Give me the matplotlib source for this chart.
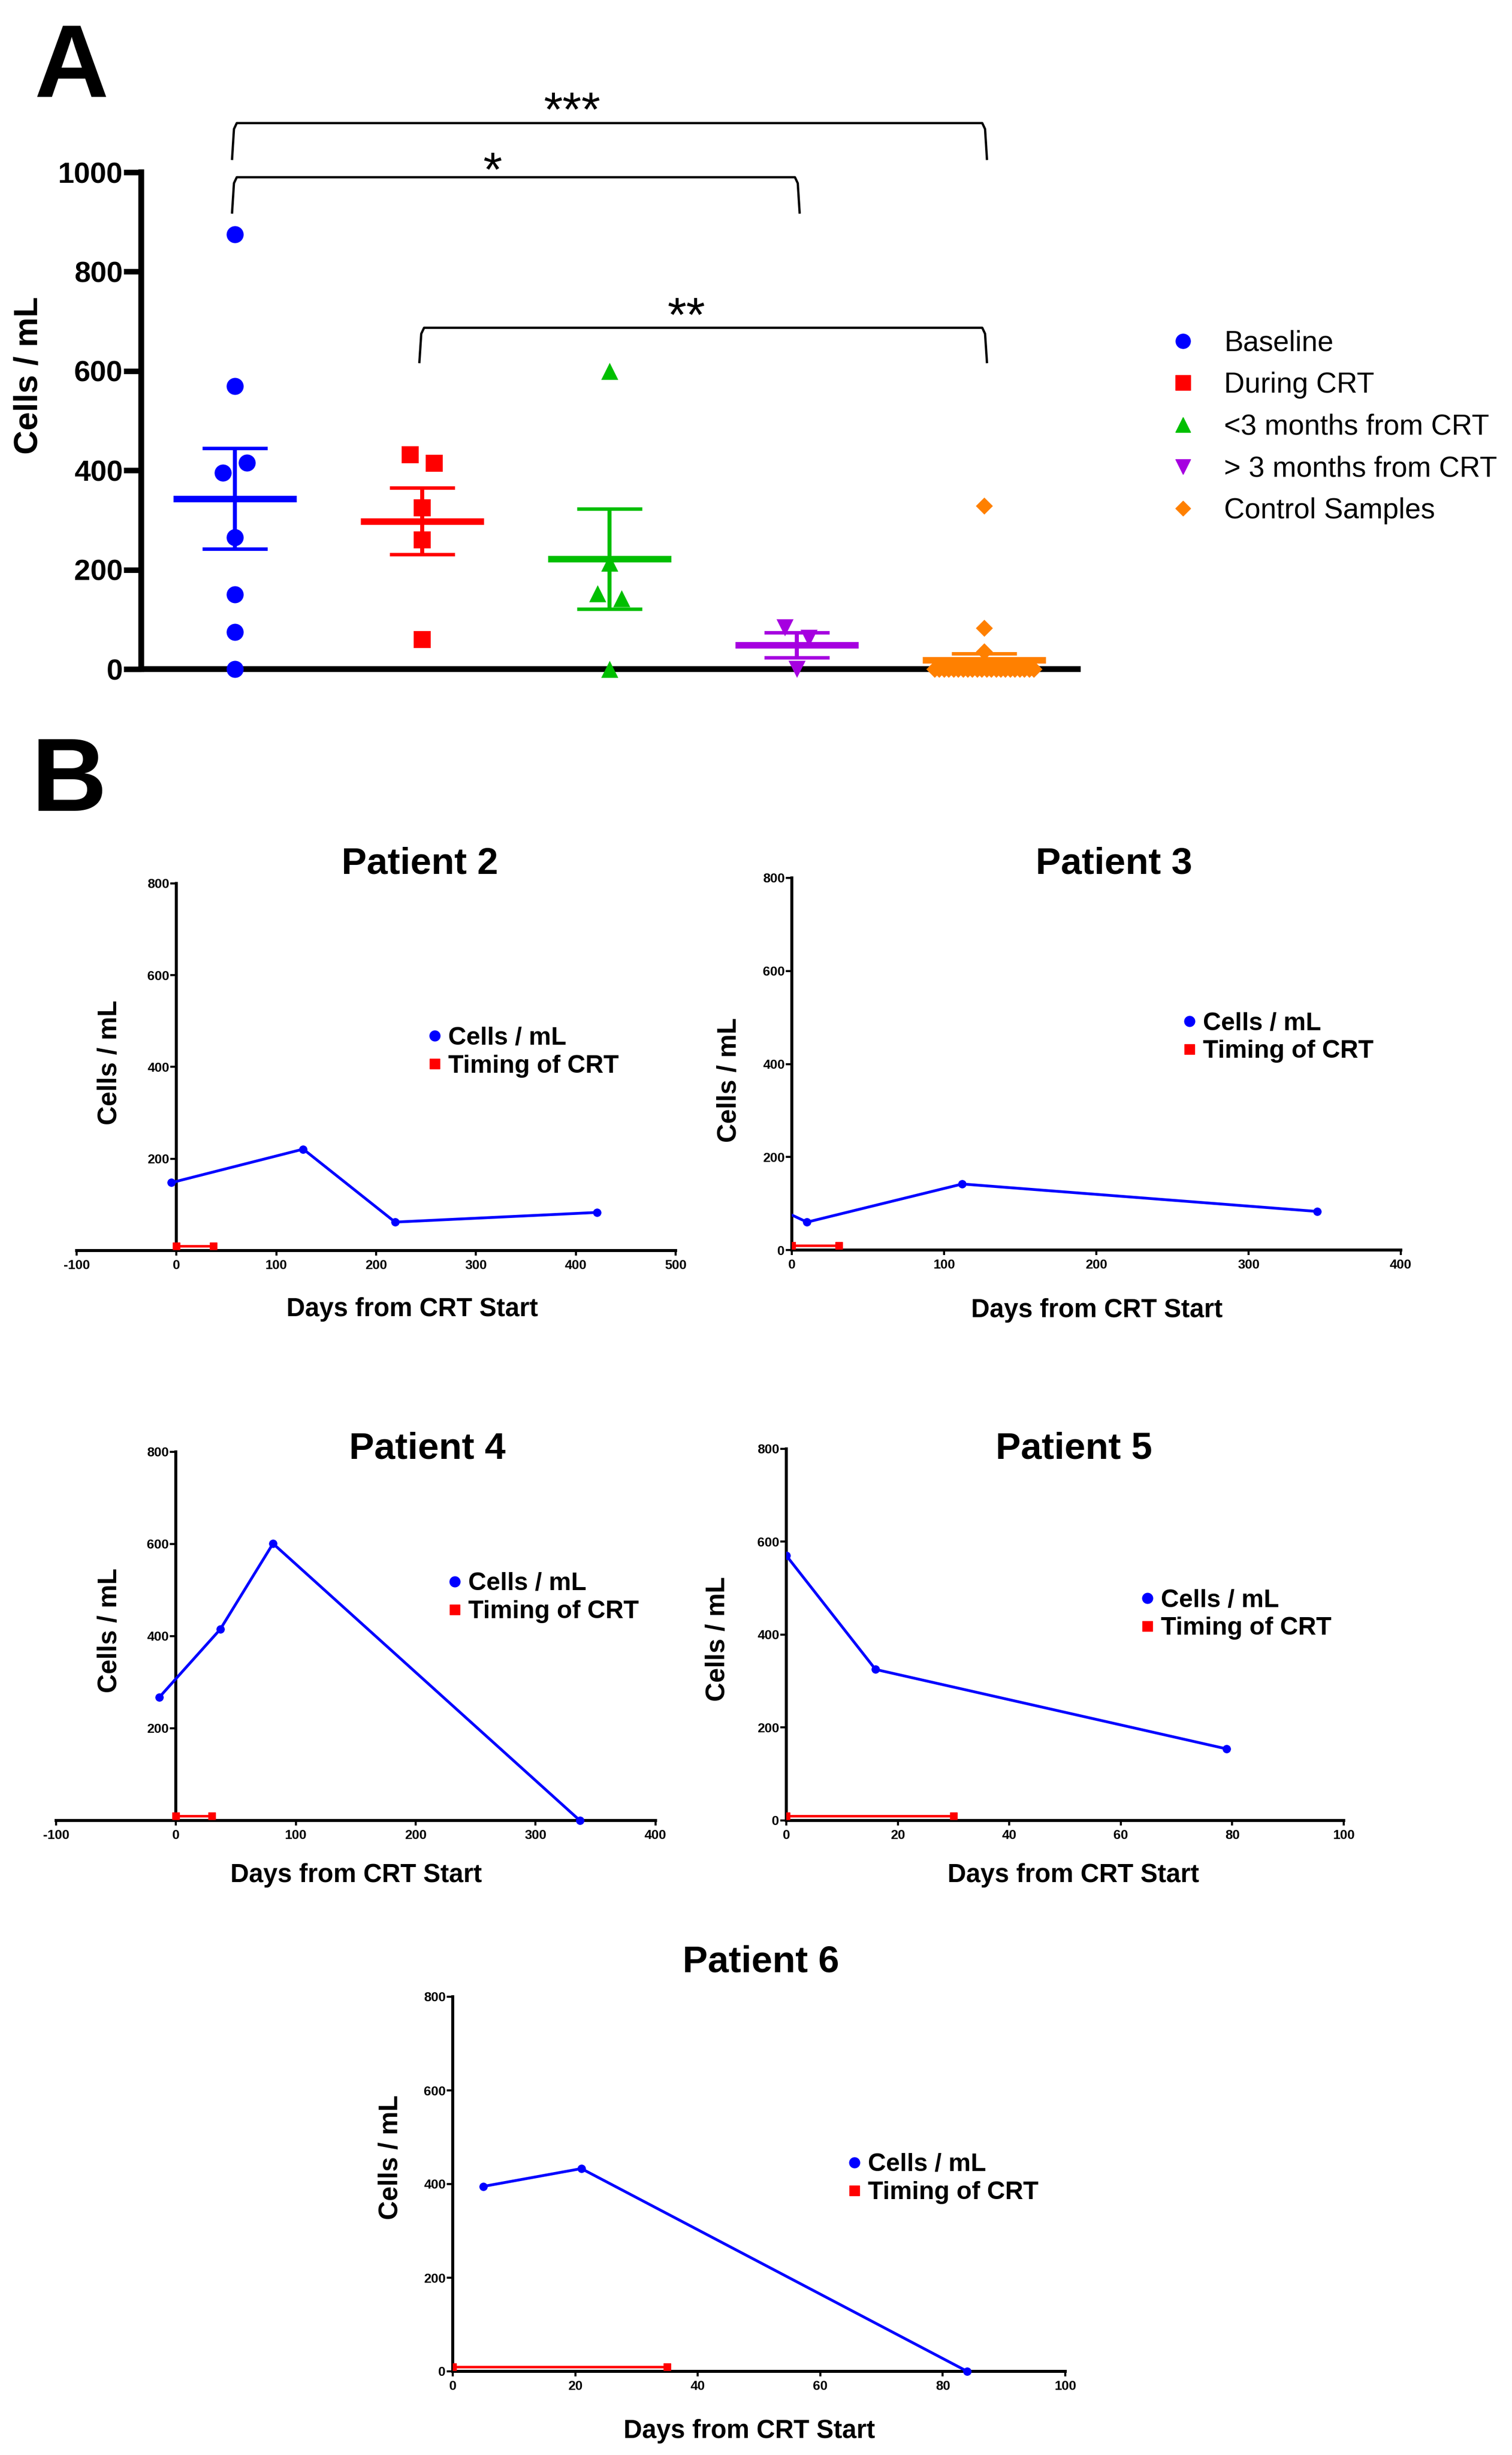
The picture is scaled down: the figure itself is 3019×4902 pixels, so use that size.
import numpy as np
import matplotlib
matplotlib.use('Agg')
import matplotlib.pyplot as plt
from matplotlib.lines import Line2D
from matplotlib.patches import Rectangle

plt.rcParams['font.family'] = ['Liberation Sans', 'DejaVu Sans']
plt.rcParams['axes.unicode_minus'] = False

W, H = 3019, 4902
DPI = 100

# ---------------- Panel A data ----------------
groups = ['Baseline', 'During CRT', '<3 months from CRT', '> 3 months from CRT', 'Control Samples']
baseline = [875, 570, 395, 415, 265, 150, 75, 0]
during_crt = [431, 414, 325, 260, 59]
lt3_months = [600, 214, 152, 142, 0]
gt3_months = [84, 62, 0]
controls = [329, 83, 35, 0, 0, 0, 0, 0, 0, 0, 0, 0, 0, 0, 0, 0, 0, 0, 0, 0, 0, 0, 0, 0, 0]
group_values = [baseline, during_crt, lt3_months, gt3_months, controls]
group_colors = ['#0000FF', '#FF0000', '#00BF00', '#A600E0', '#FF8000']
group_markers = ['o', 's', '^', 'v', 'D']
group_msize = [24.5, 24.5, 24.5, 24.5, 17.3]

bracket_pairs = [(1, 5), (1, 4), (2, 5)]
bracket_tops = [1099, 990, 687]
bracket_drops = [72, 71, 69]
bracket_labels = ['***', '*', '**']
bracket_label_x = [2.80, 2.375, 3.41]
bracket_label_base = [1094, 973, 680]

# ---------------- Panel B data ----------------
patients = ['Patient 2', 'Patient 3', 'Patient 4', 'Patient 5', 'Patient 6']
p_days = [[-5, 127, 219, 421], [-5, 10, 112, 345], [-14, 37, 81, 337], [0, 16, 79], [5, 21, 84]]
p_cells = [[148, 221, 62, 83], [83, 60, 142, 83], [267, 415, 601, 0], [570, 325, 154], [395, 433, 0]]
crt_days = [[0, 37], [0, 31], [0, 30], [0, 30], [0, 35]]
crt_level = [10, 10]
p_xlim = [(-100, 500), (0, 400), (-100, 400), (0, 100), (0, 100)]
p_xstep = [100, 100, 100, 20, 20]
y_ticks_b = [0, 200, 400, 600, 800]

# ---------------- layout (pixels) ----------------
p_rect = [(153, 1349, 1764, 2497), (1581, 2797, 1753, 2496), (112, 1308.5, 2899, 3635),
          (1570, 2683, 2892.6, 3635), (904, 2127, 3987, 4735)]
p_title = [(838, 1753), (2224, 1753), (853, 2921), (2144, 2921), (1519, 3946)]
p_xlab = [(823, 2628), (2190, 2630), (711, 3758), (2143, 3758), (1496, 4868)]
p_ylab = [(219, 2122), (1456, 2157), (219, 3256), (1433, 3273), (780, 4308)]
p_leg = [(868, 2101), (2375, 2071), (908, 3190), (2291, 3223), (1706, 4350)]


def px_rect(l, r, t, b):
    return [l / W, 1 - b / H, (r - l) / W, (b - t) / H]


def swarm_offsets(vals, thresh=30, step=0.128, max_spread=0.53):
    vals = np.asarray(vals, float)
    order = np.argsort(vals, kind='stable')
    offs = np.zeros(len(vals))
    clusters, cur = [], [order[0]]
    for idx in order[1:]:
        if vals[idx] - vals[cur[-1]] < thresh:
            cur.append(idx)
        else:
            clusters.append(cur)
            cur = [idx]
    clusters.append(cur)
    for c in clusters:
        c = sorted(c)
        k = len(c)
        if k > 1:
            s = min(step, max_spread / (k - 1))
            for j, idx in enumerate(c):
                offs[idx] = (j - (k - 1) / 2) * s
    return offs


fig = plt.figure(figsize=(W / DPI, H / DPI), dpi=DPI)

# ================= Panel A =================
aL, aR, aT, aB = 282, 2152, 344, 1336
axA = fig.add_axes(px_rect(aL, aR, aT, aB))
axA.set_xlim(0.5, 5.5)
axA.set_ylim(0, 1000)
for s in ['top', 'right']:
    axA.spines[s].set_visible(False)
for s in ['left', 'bottom']:
    axA.spines[s].set_linewidth(8.3)
axA.set_xticks([])
axA.set_yticks([0, 200, 400, 600, 800, 1000], labels=['0', '200', '400', '600', '800', '1000'],
               fontsize=42, fontweight='bold')
axA.tick_params(axis='y', direction='out', length=25, width=8, pad=1.5)

for i, (vals, c, m, ms) in enumerate(zip(group_values, group_colors, group_markers, group_msize)):
    xc = i + 1
    offs = swarm_offsets(vals)
    axA.scatter(xc + offs, vals, marker=m, s=ms ** 2, color=c, linewidths=0, zorder=3, clip_on=False)
    mean = np.mean(vals)
    sem = np.std(vals, ddof=1) / np.sqrt(len(vals))
    axA.errorbar([xc], [mean], yerr=[sem], fmt='none', ecolor=c, elinewidth=5.8, capsize=47,
                 capthick=5, zorder=4, clip_on=False)
    axA.hlines(mean, xc - 0.33, xc + 0.33, color=c, lw=9.4, zorder=5, clip_on=False)

for (g1, g2), top, drop, lab, lx, lb in zip(bracket_pairs, bracket_tops, bracket_drops,
                                             bracket_labels, bracket_label_x, bracket_label_base):
    axA.plot([g1 - 0.015, g1 - 0.005, g1 + 0.01, g2 - 0.01, g2 + 0.005, g2 + 0.015],
             [top - drop, top - 12, top, top, top - 12, top - drop],
             color='black', lw=3.3, clip_on=False, solid_joinstyle='round', zorder=6)
    axA.text(lx, lb, lab, ha='center', va='baseline', fontsize=70, clip_on=False)

axA.set_ylabel('Cells / mL', fontsize=48, fontweight='bold', va='center', ha='center')
axA.yaxis.set_label_coords((58 - aL) / (aR - aL), (aB - 750) / (aB - aT))

legA_handles = [Line2D([], [], ls='none', marker=m, color=c, markersize=(14.8 if m == 'D' else 21))
                for m, c in zip(group_markers, group_colors)]
fig.legend(legA_handles, groups, loc='center left',
           bbox_to_anchor=((2362 - 28.5) / W, 1 - 853 / H), bbox_transform=fig.transFigure,
           prop={'size': 41}, handlelength=1.0, handletextpad=0.94, labelspacing=0.52,
           borderpad=0, borderaxespad=0, frameon=False)

fig.text(69 / W, 1 - 194 / H, 'A', fontsize=148, fontweight='bold', va='baseline', ha='left')
fig.text(63 / W, 1 - 1619 / H, 'B', fontsize=150, fontweight='bold', va='baseline', ha='left')

# ================= Panel B =================
for k in range(5):
    l, r, t, b = p_rect[k]
    ax = fig.add_axes(px_rect(l, r, t, b))
    x0, x1 = p_xlim[k]
    ax.set_xlim(x0, x1)
    ax.set_ylim(0, 800)
    for s in ['top', 'right']:
        ax.spines[s].set_visible(False)
    for s in ['left', 'bottom']:
        ax.spines[s].set_linewidth(4.3)
    if x0 < 0:
        ax.spines['left'].set_position(('data', 0))
        yt = y_ticks_b[1:]
    else:
        yt = y_ticks_b
    xt = list(range(x0, x1 + 1, p_xstep[k]))
    ax.set_xticks(xt, labels=[str(v) for v in xt], fontsize=19, fontweight='bold')
    ax.set_yticks(yt, labels=[str(v) for v in yt], fontsize=19, fontweight='bold')
    ax.tick_params(axis='y', direction='out', length=9, width=3, pad=1)
    ax.tick_params(axis='x', direction='out', length=7, width=3, pad=6)

    clip = Rectangle((0, -0.06), 1, 1.12, transform=ax.transAxes, facecolor='none', edgecolor='none')
    ax.add_patch(clip)
    clip.set_visible(False)
    ln, = ax.plot(p_days[k], p_cells[k], color='#0000FF', lw=4, marker='o', ms=11, zorder=3)
    ln.set_clip_path(clip)
    cr, = ax.plot(crt_days[k], crt_level, color='#FF0000', lw=3.6, marker='s', ms=10, zorder=3)
    cr.set_clip_path(clip)

    tx, ty = p_title[k]
    ax.set_title(patients[k], x=(tx - l) / (r - l), y=(b - ty) / (b - t), fontsize=54,
                 fontweight='bold', va='baseline', ha='center')
    xx, xy = p_xlab[k]
    ax.set_xlabel('Days from CRT Start', fontsize=37, fontweight='bold', va='baseline')
    ax.xaxis.set_label_coords((xx - l) / (r - l), (b - xy) / (b - t))
    yx, yy = p_ylab[k]
    ax.set_ylabel('Cells / mL', fontsize=38, fontweight='bold', va='center', ha='center')
    ax.yaxis.set_label_coords((yx - l) / (r - l), (b - yy) / (b - t))

    lx, ly = p_leg[k]
    hnd = [Line2D([], [], ls='none', marker='o', color='#0000FF', markersize=15),
           Line2D([], [], ls='none', marker='s', color='#FF0000', markersize=15)]
    ax.legend(hnd, ['Cells / mL', 'Timing of CRT'], loc='center left',
              bbox_to_anchor=((lx - 12.5) / W, 1 - ly / H), bbox_transform=fig.transFigure,
              prop={'size': 36, 'weight': 'bold'}, handlelength=0.5, handletextpad=0.29,
              labelspacing=0.2, borderpad=0, borderaxespad=0, frameon=False)

fig.savefig('out.png', dpi=DPI)
